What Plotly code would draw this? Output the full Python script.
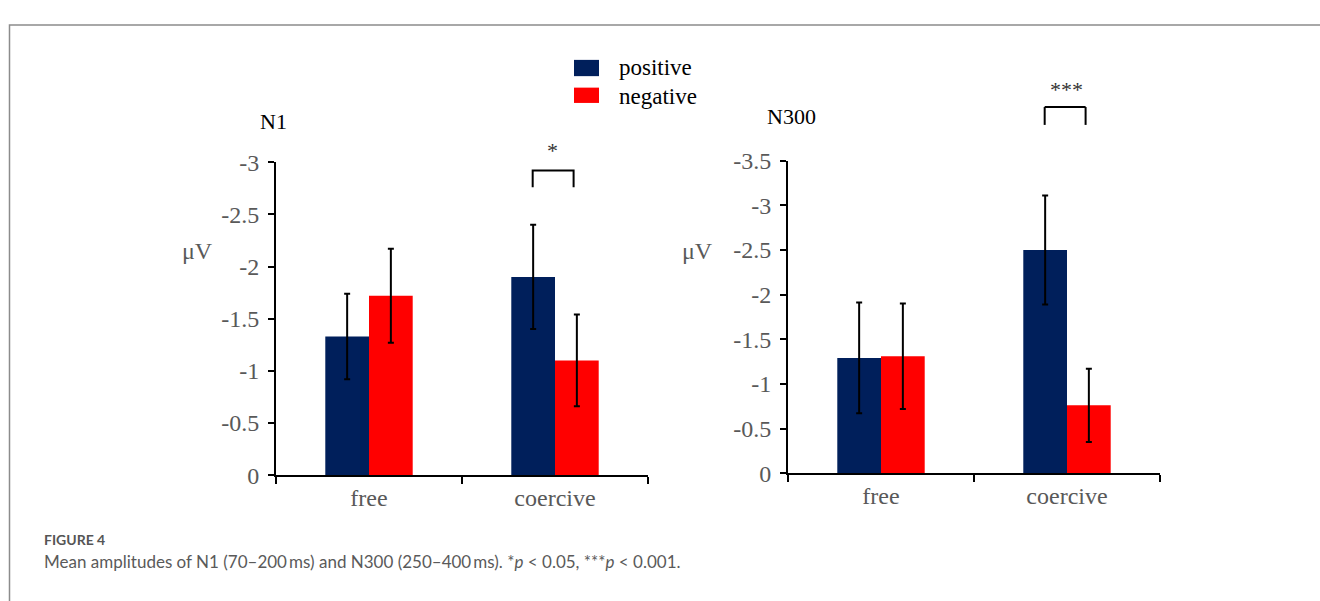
import plotly.graph_objects as go

W, H = 1320, 601

categories = ["free", "coercive"]
series_names = ["positive", "negative"]
colors = ["#001F5B", "#FF0000"]

n1_positive = [-1.33, -1.90]
n1_negative = [-1.72, -1.10]
n1_pos_err = [0.41, 0.50]
n1_neg_err = [0.45, 0.44]

n300_positive = [-1.29, -2.50]
n300_negative = [-1.31, -0.76]
n300_pos_err = [0.62, 0.61]
n300_neg_err = [0.59, 0.41]

n1_ticks = [0, -0.5, -1, -1.5, -2, -2.5, -3]
n300_ticks = [0, -0.5, -1, -1.5, -2, -2.5, -3, -3.5]

caption_head = "FIGURE 4"
caption_text = "Mean amplitudes of N1 (70\u2013200\u2009ms) and N300 (250\u2013400\u2009ms). *<i>p</i> < 0.05, ***<i>p</i> < 0.001."

SERIF = "Liberation Serif, Times New Roman, serif"
GRAY = "#595959"


def px(x):
    return x / W


def py(y):
    return 1 - y / H


fig = go.Figure()

panels = [
    ("x", "y", n1_positive, n1_negative, n1_pos_err, n1_neg_err),
    ("x2", "y2", n300_positive, n300_negative, n300_pos_err, n300_neg_err),
]
for i, (xa, ya, pos, neg, pe, ne) in enumerate(panels):
    for name, vals, errs, col in [(series_names[0], pos, pe, colors[0]), (series_names[1], neg, ne, colors[1])]:
        fig.add_trace(go.Bar(
            x=categories, y=vals, name=name, marker=dict(color=col, line=dict(width=0)),
            error_y=dict(type="data", array=errs, visible=True, color="black", thickness=2, width=3),
            xaxis=xa, yaxis=ya, showlegend=False, offsetgroup=name,
        ))


def yaxis_cfg(ticks, domain, anchor):
    return dict(
        domain=domain, anchor=anchor, range=[0, min(ticks)],
        tickvals=ticks, ticktext=[("%g" % t) for t in ticks],
        showgrid=False, zeroline=False, showline=True, linecolor="black", linewidth=2,
        ticks="outside", ticklen=6, tickwidth=2, tickcolor="black",
        tickfont=dict(family=SERIF, size=24, color=GRAY), ticklabelstandoff=4,
    )


def xaxis_cfg(domain, anchor):
    return dict(
        domain=domain, anchor=anchor, type="category", range=[-0.5, 1.5],
        showgrid=False, zeroline=False, showline=True, linecolor="black", linewidth=2,
        ticks="outside", tickson="boundaries", ticklen=7, tickwidth=2, tickcolor="black",
        tickfont=dict(family=SERIF, size=24, color=GRAY),
    )


fig.update_layout(
    width=W, height=H, margin=dict(l=0, r=0, t=0, b=0),
    paper_bgcolor="white", plot_bgcolor="white",
    barmode="group", bargap=0.53, bargroupgap=0,
    showlegend=False,
    xaxis=xaxis_cfg([px(276), px(648)], "y"),
    yaxis=yaxis_cfg(n1_ticks, [py(483), py(156)], "x"),
    xaxis2=xaxis_cfg([px(788), px(1160)], "y2"),
    yaxis2=yaxis_cfg(n300_ticks, [py(481), py(154.3)], "x2"),
)

shapes = []
# outer frame
shapes.append(dict(type="rect", xref="paper", yref="paper", x0=px(9.5), x1=1.05, y0=-0.05, y1=py(12.5),
                   line=dict(color="#8c8c8c", width=1.5), fillcolor="rgba(0,0,0,0)", layer="below"))
# significance brackets
shapes.append(dict(type="path", xref="x", yref="y",
                   path="M 0.88,-2.76 L 0.88,-2.92 L 1.10,-2.92 L 1.10,-2.76",
                   line=dict(color="black", width=2)))
r_top = 4.10 / 3.5
r_end = 3.90 / 3.5
for (x0, y0, x1, y1) in [(0.88, r_end, 0.88, r_top), (0.88, r_top, 1.10, r_top), (1.10, r_top, 1.10, r_end)]:
    shapes.append(dict(type="line", xref="x2", yref="y2 domain", x0=x0, y0=y0, x1=x1, y1=y1,
                       line=dict(color="black", width=2)))
# legend swatches
shapes.append(dict(type="rect", xref="paper", yref="paper", x0=px(574), x1=px(599), y0=py(66), y1=py(49),
                   fillcolor=colors[0], line=dict(width=0)))
shapes.append(dict(type="rect", xref="paper", yref="paper", x0=px(574), x1=px(599), y0=py(94), y1=py(78),
                   fillcolor=colors[1], line=dict(width=0)))
fig.update_layout(shapes=shapes)

ann = []


def txt(x, y, s, size=23, color="black", family=SERIF, xanchor="center", **kw):
    ann.append(dict(xref="paper", yref="paper", x=px(x), y=py(y), text=s, showarrow=False,
                    xanchor=xanchor, yanchor="middle", font=dict(family=family, size=size, color=color), **kw))


txt(273, 113, "N1", size=22)
txt(791, 108, "N300", size=22)
txt(197, 249, "\u03bcV", size=24, color=GRAY)
txt(697, 249, "\u03bcV", size=24, color=GRAY)
txt(617, 57, series_names[0], xanchor="left", size=23)
txt(617, 87, series_names[1], xanchor="left", size=23)
txt(552, 144, "*", size=22, color="#333333")
txt(1066, 80, "***", size=22, color="#333333")
txt(42, 550, "<b>" + caption_head + "</b>", size=14, color="#555555", family="Lato, Open Sans, sans-serif", xanchor="left")
txt(42, 573, caption_text, size=17, color="#5a5a5a", family="Lato, Open Sans, sans-serif", xanchor="left")
fig.update_layout(annotations=ann)

fig.write_html("out.html", config={"displayModeBar": False},
               post_script="document.body.style.margin='0';document.body.style.overflow='hidden';")
